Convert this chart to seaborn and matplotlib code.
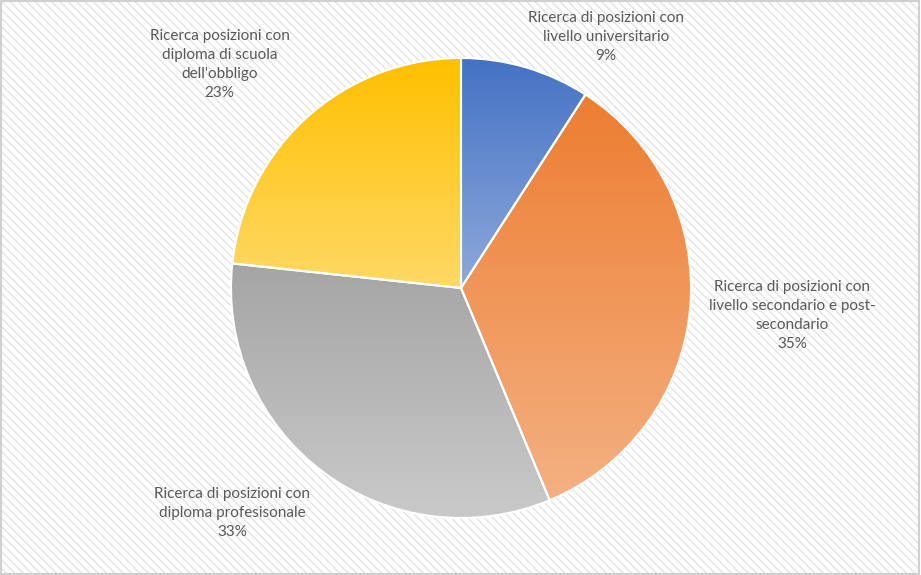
import numpy as np
import matplotlib
matplotlib.use("Agg")
import matplotlib.pyplot as plt
import seaborn as sns
from matplotlib.colors import LinearSegmentedColormap
from matplotlib.patches import Rectangle

sns.set_theme(style="white")
plt.rcParams['font.family'] = ['Lato', 'DejaVu Sans']
plt.rcParams['hatch.color'] = "#E4E4E4"
plt.rcParams['hatch.linewidth'] = 1.0

# data
categories = ["Ricerca di posizioni con\nlivello universitario",
              "Ricerca di posizioni con\nlivello secondario e post-\nsecondario",
              "Ricerca di posizioni con\ndiploma profesisonale",
              "Ricerca posizioni con\ndiploma di scuola\ndell'obbligo"]
values = [9.1, 34.6, 33.0, 23.3]
top_colors = ["#4472C4", "#ED7D31", "#A5A5A5", "#FFC000"]
bottom_colors = ["#8EA9DB", "#F4B183", "#CACACA", "#FFD966"]
# label anchor positions (in pie units)
label_pos = [(0.63, 1.09), (1.44, -0.12), (-0.995, -0.98), (-1.05, 0.97)]

fig = plt.figure(figsize=(9.21, 5.75), dpi=100)

# hatched background + frame
bg = Rectangle((0.002, 0.002), 0.996, 0.996, transform=fig.transFigure,
               facecolor="white", edgecolor="#E4E4E4", hatch="\\\\\\\\",
               linewidth=0, zorder=-2)
fig.patches.append(bg)
frame = Rectangle((0.001, 0.002), 0.997, 0.996, transform=fig.transFigure,
                  facecolor="none", edgecolor="#D0D0D0", linewidth=1.5, zorder=-1)
fig.patches.append(frame)

ax = fig.add_axes([231 / 921, 57 / 575, 460 / 921, 460 / 575])
ax.set_facecolor("none")

wedges, _ = ax.pie(values, startangle=90, counterclock=False, radius=1,
                   colors=top_colors,
                   wedgeprops=dict(edgecolor="white", linewidth=1.5))

for w, c0, c1 in zip(wedges, top_colors, bottom_colors):
    verts = w.get_path().vertices
    y0, y1 = verts[:, 1].min(), verts[:, 1].max()
    x0, x1 = verts[:, 0].min(), verts[:, 0].max()
    cmap = LinearSegmentedColormap.from_list("g", [c1, c0])
    grad = np.linspace(0, 1, 256).reshape(-1, 1)
    im = ax.imshow(grad, cmap=cmap, origin="lower", aspect="auto",
                   extent=[x0, x1, y0, y1], zorder=w.get_zorder() + 0.1)
    im.set_clip_path(w)
    w.set_facecolor("none")
    w.set_zorder(w.get_zorder() + 0.2)

total = sum(values)
for lab, v, (lx, ly) in zip(categories, values, label_pos):
    ax.text(lx, ly, f"{lab}\n{100 * v / total:.0f}%", ha="center", va="center",
            fontsize=11, color="#595959", linespacing=1.45, clip_on=False)

ax.set_xlim(-1, 1)
ax.set_ylim(-1, 1)
ax.set_aspect("equal")
ax.axis("off")

fig.savefig("out.png", dpi=100)
